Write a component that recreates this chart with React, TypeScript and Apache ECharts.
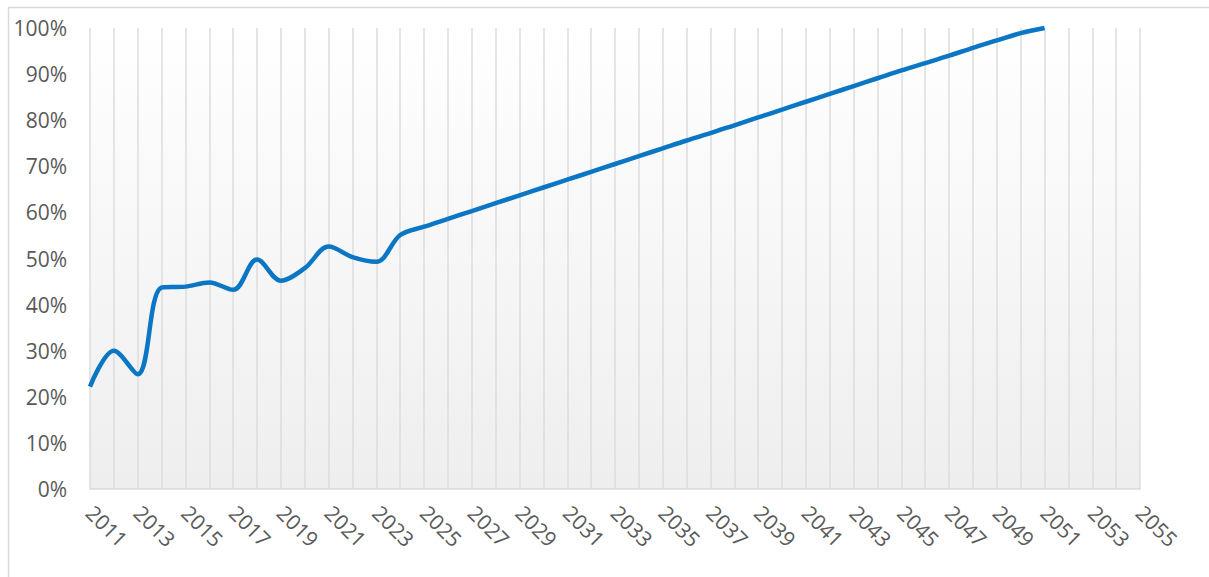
import React, { useEffect, useRef } from "react";
import * as echarts from "echarts";

const years: string[] = [];
for (let y = 2011; y <= 2055; y++) years.push(String(y));

const shareValues: (number | null)[] = [
  22.2, 30.0, 24.9, 43.7, 43.9, 44.8, 43.2, 49.8, 45.2, 47.9,
  52.6, 50.3, 49.3, 55.1, 56.9, 58.6, 60.3, 62.0, 63.7, 65.4,
  67.1, 68.8, 70.5, 72.2, 73.9, 75.6, 77.2, 78.9, 80.6, 82.3,
  84.0, 85.7, 87.4, 89.1, 90.8, 92.4, 94.0, 95.7, 97.3, 98.9,
  100.0, null, null, null, null,
];

export default function App() {
  const ref = useRef<HTMLDivElement>(null);
  useEffect(() => {
    if (!ref.current) return;
    const chart = echarts.init(ref.current, undefined, { renderer: "svg" });
    const font = "'Open Sans', 'Liberation Sans', sans-serif";
    chart.setOption({
      animation: false,
      grid: {
        left: 90,
        right: 69,
        top: 28,
        bottom: 88,
        show: true,
        borderWidth: 0,
        backgroundColor: new echarts.graphic.LinearGradient(0, 0, 0, 1, [
          { offset: 0, color: "#ffffff" },
          { offset: 1, color: "#eeeeee" },
        ]),
      },
      graphic: [
        {
          type: "line",
          shape: { x1: 8, y1: 7.5, x2: 1209, y2: 7.5 },
          style: { stroke: "#d9d9d9", lineWidth: 1.5 },
        },
        {
          type: "line",
          shape: { x1: 8.5, y1: 7, x2: 8.5, y2: 577 },
          style: { stroke: "#d9d9d9", lineWidth: 1.5 },
        },
      ],
      xAxis: {
        type: "category",
        data: years,
        boundaryGap: false,
        axisLine: { show: true, lineStyle: { color: "#d9d9d9", width: 1.5 } },
        axisTick: { show: false },
        splitLine: {
          show: true,
          interval: 0,
          lineStyle: { color: "#dcdcdc", width: 1.5 },
        },
        axisLabel: {
          interval: 1,
          rotate: -45,
          margin: 20,
          color: "#595959",
          fontSize: 21,
          fontFamily: font,
        },
      },
      yAxis: {
        type: "value",
        min: 0,
        max: 100,
        interval: 10,
        axisLine: { show: false },
        axisTick: { show: false },
        splitLine: { show: false },
        axisLabel: {
          formatter: (v: number) => `${v}%`,
          margin: 23,
          color: "#595959",
          fontSize: 21,
          fontFamily: font,
        },
      },
      series: [
        {
          type: "line",
          data: shareValues,
          smooth: 0.35,
          showSymbol: false,
          symbol: "none",
          lineStyle: { color: "#0a76c4", width: 4.5 },
          itemStyle: { color: "#0a76c4" },
        },
      ],
    });
    return () => chart.dispose();
  }, []);
  return (
    <div
      ref={ref}
      style={{ position: "fixed", left: 0, top: 0, width: 1209, height: 577, background: "#ffffff" }}
    />
  );
}
